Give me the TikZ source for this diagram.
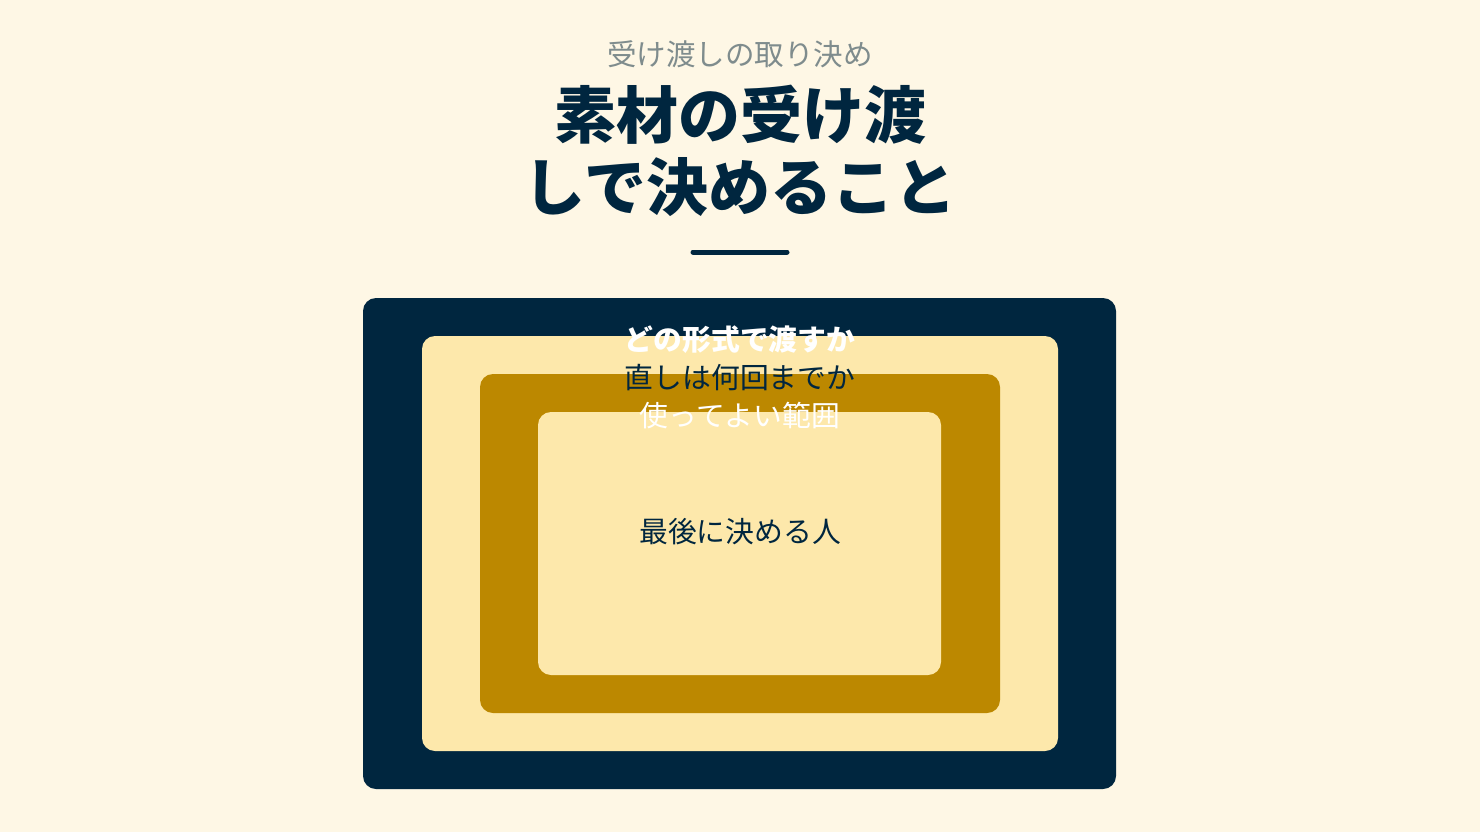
\documentclass[tikz,border=0pt]{standalone}
\usepackage{fontspec}
\newfontfamily\cjk{Noto Sans CJK JP}
\definecolor{bg}{HTML}{FEF7E5}
\definecolor{navy}{HTML}{00263F}
\definecolor{lite}{HTML}{FDE8AB}
\definecolor{gold}{HTML}{BC8800}
\definecolor{subgray}{HTML}{7F8C8D}
\tikzset{
  layer/.style={rounded corners=13pt, draw=none},
  lbl/.style={font=\cjk\fontsize{28.8}{32}\selectfont, inner sep=0pt, anchor=center},
}
\begin{document}
\begin{tikzpicture}[x=1pt,y=-1pt]
\fill[bg] (0,0) rectangle (1480,832);
\useasboundingbox (0,0) rectangle (1480,832);
\node[font=\cjk\fontsize{29.5}{32}\selectfont, text=subgray, inner sep=0pt] (sub) at (740,54) {受け渡しの取り決め};
\node[font=\cjk\bfseries\fontsize{62}{72}\selectfont, text=navy, inner sep=0pt, align=center] (title) at (740,151) {素材の受け渡\\しで決めること};
\draw[navy, line width=5pt, line cap=round] (693,252) coordinate (d1) -- (787,252) coordinate (d2);
\path[layer, fill=navy] (363,298) rectangle (1116,789);
\path[layer, fill=lite] (422,336) rectangle (1058,751);
\path[layer, fill=gold] (480,374) rectangle (1000,713);
\path[layer, fill=lite] (538,412) rectangle (941,675);
\node[lbl, text=white, font=\cjk\bfseries\fontsize{28.8}{32}\selectfont] (l1) at (740,340) {どの形式で渡すか};
\node[lbl, text=navy] (l2) at (740,378) {直しは何回までか};
\node[lbl, text=white] (l3) at (740,416) {使ってよい範囲};
\node[lbl, text=navy] (l4) at (740,532) {最後に決める人};
\end{tikzpicture}
\end{document}
